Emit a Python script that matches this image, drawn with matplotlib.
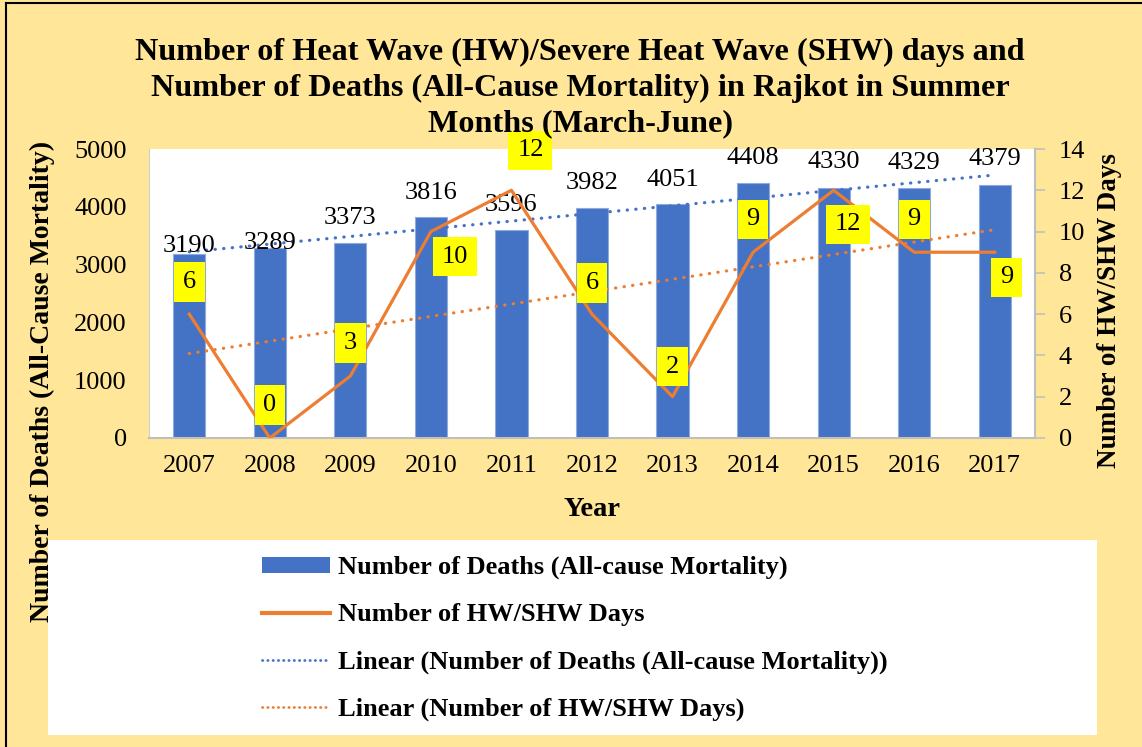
import numpy as np
import matplotlib
matplotlib.use("Agg")
import matplotlib.pyplot as plt
from matplotlib.patches import Rectangle
from matplotlib.lines import Line2D

years = ["2007", "2008", "2009", "2010", "2011", "2012", "2013", "2014", "2015", "2016", "2017"]
deaths = [3190, 3289, 3373, 3816, 3596, 3982, 4051, 4408, 4330, 4329, 4379]
hw_days = [6, 0, 3, 10, 12, 6, 2, 9, 12, 9, 9]

# label offsets in pixels (style only)
death_label_dy = [8, 5, 25, 24, 25, 25, 24, 25, 26, 25, 26]
hw_label_off = [(0, 32), (0, 33), (0, 33), (24, -25), (19, 40), (0, 31), (0, 30),
                (0, 33), (14, -34), (0, 33), (12, -25)]

BLUE = "#4472C4"
ORANGE = "#ED7D31"
BG = "#FFE699"
SERIF = "Liberation Serif"
DOTS = (0, (0.1, 2.6))

plt.rcParams["font.family"] = [SERIF, "DejaVu Serif"]

W, H = 1142, 747
fig = plt.figure(figsize=(W / 100, H / 100), dpi=100, facecolor=BG)

def fx(px):
    return px / W

def fy(py):
    return 1 - py / H

ax = fig.add_axes([fx(149), fy(438), fx(1035) - fx(149), fy(149) - fy(438)])
ax.set_facecolor("white")
x = np.arange(len(years))

ax.bar(x, deaths, width=0.4, color=BLUE, edgecolor="#8FAADC", linewidth=0.8, zorder=2)
ax.set_xlim(-0.5, len(years) - 0.5)
ax.set_ylim(0, 5000)
ax.set_yticks(np.arange(0, 5001, 1000))
ax.set_xticks(x)
ax.set_xticklabels(years)
ax.tick_params(axis="y", length=0, pad=16, labelsize=19)
ax.tick_params(axis="x", length=0, pad=12, labelsize=19)
for s in ["top", "right"]:
    ax.spines[s].set_visible(False)
ax.spines["left"].set_color("#D0D0D0")
ax.spines["bottom"].set_color("#BFBFBF")
ax.spines["bottom"].set_linewidth(1.5)

# trend for deaths
p1 = np.polyfit(x, deaths, 1)
ax.plot(x, np.polyval(p1, x), color=BLUE, lw=2.3, linestyle=DOTS,
        dash_capstyle="round", zorder=3)

for xi, v, dy in zip(x, deaths, death_label_dy):
    ax.annotate(str(v), (xi, v), xytext=(0, dy), textcoords="offset pixels",
                ha="center", va="center", fontsize=19, zorder=4)

ax2 = ax.twinx()
ax2.set_ylim(0, 14)
ax2.set_yticks(np.arange(0, 15, 2))
ax2.tick_params(axis="y", length=7, width=1.2, color="#BFBFBF", pad=10, labelsize=19)
for s in ["top", "left", "bottom"]:
    ax2.spines[s].set_visible(False)
ax2.spines["right"].set_color("#BFBFBF")
ax2.spines["right"].set_linewidth(1.5)

ax2.plot(x, hw_days, color=ORANGE, lw=2.3, zorder=3)
p2 = np.polyfit(x, hw_days, 1)
ax2.plot(x, np.polyval(p2, x), color=ORANGE, lw=2.3, linestyle=DOTS,
         dash_capstyle="round", zorder=3)
for xi, v, (dx, dy) in zip(x, hw_days, hw_label_off):
    ax2.annotate(str(v), (xi, v), xytext=(dx, dy), textcoords="offset pixels",
                 ha="center", va="center", fontsize=19, zorder=5,
                 bbox=dict(boxstyle="square,pad=0.33", fc="#FFFF00", ec="none"),
                 annotation_clip=False)

# axis titles
fig.text(fx(592), fy(509), "Year", ha="center", va="center", fontsize=20.5,
         fontweight="bold")
fig.text(fx(42), fy(381), "Number of Deaths (All-Cause Mortality)", rotation=90,
         ha="center", va="center", fontsize=20, fontweight="bold", zorder=1)
fig.text(fx(1110), fy(311), "Number of HW/SHW Days", rotation=90,
         ha="center", va="center", fontsize=19.5, fontweight="bold", zorder=1)

# title
fig.text(fx(580), fy(88),
         "Number of Heat Wave (HW)/Severe Heat Wave (SHW) days and\n"
         "Number of Deaths (All-Cause Mortality) in Rajkot in Summer\n"
         "Months (March-June)",
         ha="center", va="center", fontsize=23.2, fontweight="bold",
         linespacing=1.3, zorder=1)

# legend background
fig.patches.append(Rectangle((fx(48), fy(735)), fx(1097) - fx(48), fy(540) - fy(735),
                             transform=fig.transFigure, facecolor="white",
                             edgecolor="none", zorder=5))

handles = [
    Rectangle((0, 0), 1, 1, facecolor=BLUE, edgecolor="none"),
    Line2D([], [], color=ORANGE, lw=3),
    Line2D([], [], color=BLUE, lw=2.0, linestyle=(0, (0.1, 1.8)), dash_capstyle="round"),
    Line2D([], [], color=ORANGE, lw=2.0, linestyle=(0, (0.1, 1.8)), dash_capstyle="round"),
]
labels = [
    "Number of Deaths (All-cause Mortality)",
    "Number of HW/SHW Days",
    "Linear (Number of Deaths (All-cause Mortality))",
    "Linear (Number of HW/SHW Days)",
]
leg = fig.legend(handles, labels, loc="upper left",
                 bbox_to_anchor=(fx(262), fy(556)), frameon=False,
                 prop=dict(family=SERIF, weight="bold", size=19),
                 handlelength=2.58, handleheight=0.55, handletextpad=0.3,
                 labelspacing=0.91, borderpad=0, borderaxespad=0)
leg.set_zorder(6)

# border
fig.add_artist(Line2D([fx(6), fx(6)], [0, fy(3)], color="black", lw=1.5,
                      transform=fig.transFigure, zorder=7))
fig.add_artist(Line2D([fx(6), 1], [fy(3), fy(3)], color="black", lw=1.5,
                      transform=fig.transFigure, zorder=7))

fig.savefig("out.png", dpi=100, facecolor=BG)
